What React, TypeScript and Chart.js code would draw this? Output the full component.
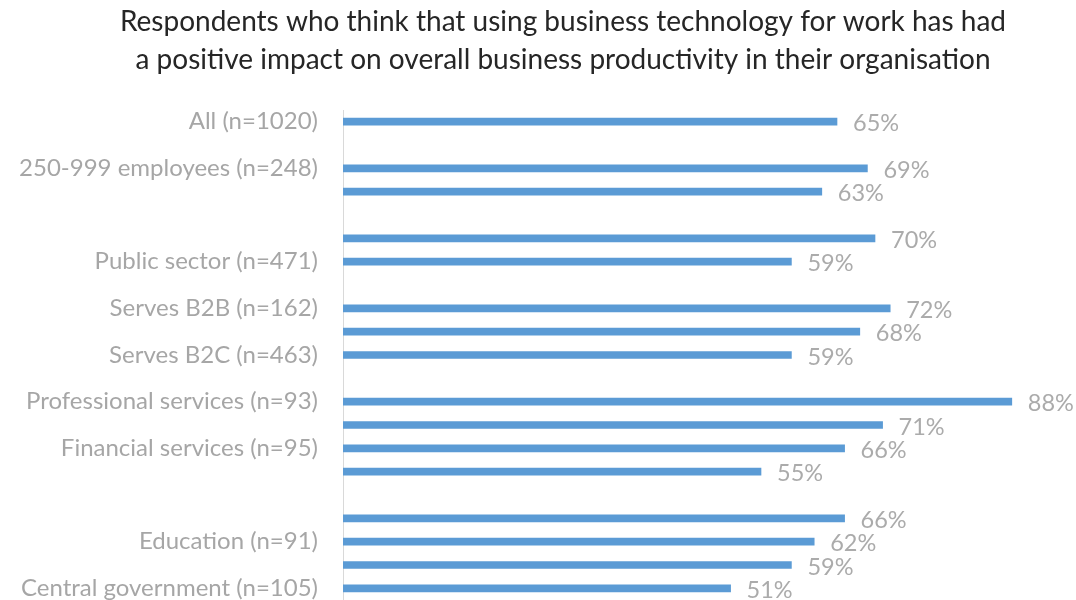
import React, { useEffect, useRef } from "react";
import { Chart, registerables } from "chart.js";

Chart.register(...registerables);

const titleLines = [
  "Respondents who think that using business technology for work has had",
  "a positive impact on overall business productivity in their organisation",
];

const categories = [
  "All (n=1020)", "", "250-999 employees (n=248)", "", "", "", "Public sector (n=471)", "",
  "Serves B2B (n=162)", "", "Serves B2C (n=463)", "", "Professional services (n=93)", "",
  "Financial services (n=95)", "", "", "", "Education (n=91)", "", "Central government (n=105)",
];

const values: (number | null)[] = [
  65, null, 69, 63, null, 70, 59, null, 72, 68, 59, null, 88, 71, 66, 55, null, 66, 62, 59, 51,
];

const FONT = "Lato, 'Open Sans', sans-serif";

const titlePlugin = {
  id: "customTitle",
  afterDraw(chart: any) {
    const ctx = chart.ctx;
    ctx.save();
    ctx.font = `28px ${FONT}`;
    ctx.fillStyle = "#262626";
    ctx.textAlign = "center";
    ctx.textBaseline = "middle";
    titleLines.forEach((line, i) => {
      ctx.fillText(line, 563, 22 + i * 38);
    });
    ctx.restore();
  },
};

const valueLabelPlugin = {
  id: "valueLabels",
  afterDatasetsDraw(chart: any) {
    const ctx = chart.ctx;
    const meta = chart.getDatasetMeta(0);
    ctx.save();
    ctx.font = `23.5px ${FONT}`;
    ctx.fillStyle = "#ababab";
    ctx.textAlign = "left";
    ctx.textBaseline = "middle";
    meta.data.forEach((bar: any, i: number) => {
      const v = values[i];
      if (v === null || v === undefined) return;
      ctx.fillText(`${v}%`, bar.x + 16, bar.y + 2);
    });
    ctx.restore();
  },
};

export default function App() {
  const ref = useRef<HTMLCanvasElement>(null);

  useEffect(() => {
    if (!ref.current) return;
    const chart = new Chart(ref.current, {
      type: "bar",
      data: {
        labels: categories,
        datasets: [{ data: values as any, backgroundColor: "#5b9bd5", barThickness: 7 }],
      },
      plugins: [valueLabelPlugin, titlePlugin],
      options: {
        indexAxis: "y",
        animation: false,
        responsive: false,
        layout: { padding: { left: 0, right: 49, top: 110, bottom: 0 } },
        plugins: {
          legend: { display: false },
          tooltip: { enabled: false },
          title: { display: false },
        },
        scales: {
          x: { display: false, min: 0, max: 90 },
          y: {
            grid: { display: false, drawTicks: false },
            border: { display: true, color: "#d9d9d9", width: 1 },
            ticks: { autoSkip: false, color: "#a6a6a6", padding: 25, font: { family: FONT, size: 24 } },
            afterFit(scale: any) {
              scale.width = 343;
              scale.paddingTop = 0;
              scale.paddingBottom = 0;
            },
          },
        },
      },
    });
    return () => chart.destroy();
  }, []);

  return (
    <div style={{ position: "absolute", left: 0, top: 0, width: 1076, height: 600 }}>
      <canvas ref={ref} width={1076} height={600} />
    </div>
  );
}
